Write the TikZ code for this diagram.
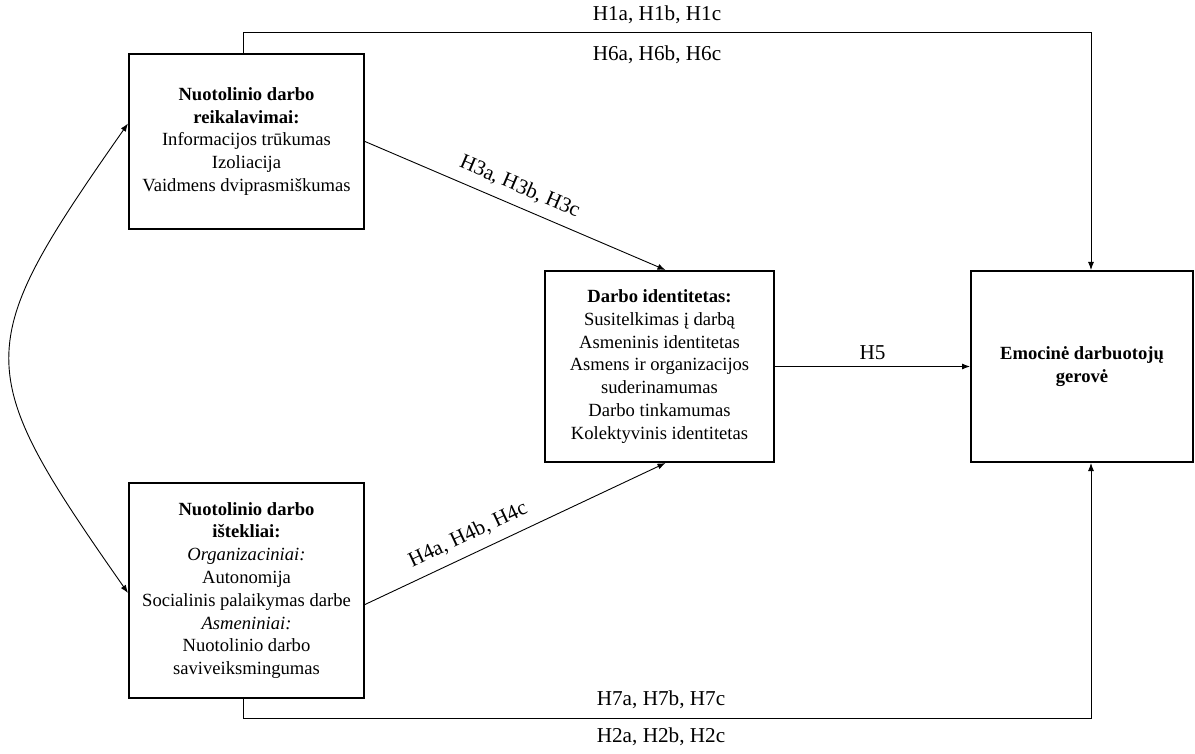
\documentclass[tikz,border=0pt]{standalone}
\usepackage{fontspec}
\setmainfont{Liberation Serif}
\usetikzlibrary{arrows.meta}
\tikzset{
	box/.style={draw,line width=1pt,align=center,font=\fontsize{9.3}{11.4}\selectfont},
	arr/.style={-{Latex[length=4pt,width=3pt]},line width=0.45pt},
	lbl/.style={font=\fontsize{10.6}{12}\selectfont}
}
\begin{document}
\begin{tikzpicture}[x=0.5pt,y=-0.5pt]
		\useasboundingbox (0,0) rectangle (1195,754);

		% Blocchi
		\node[box,minimum width=117.5pt,minimum height=87.5pt] (dem) at (246.5,141.5)
			{\textbf{Nuotolinio darbo}\\\textbf{reikalavimai:}\\Informacijos trūkumas\\Izoliacija\\Vaidmens dviprasmiškumas};
		\node[box,minimum width=117.5pt,minimum height=107.5pt] (res) at (246.5,590.5)
			{\textbf{Nuotolinio darbo}\\\textbf{ištekliai:}\\\textit{Organizaciniai:}\\Autonomija\\Socialinis palaikymas darbe\\\textit{Asmeniniai:}\\Nuotolinio darbo\\saviveiksmingumas};
		\node[box,minimum width=114.5pt,minimum height=95.5pt] (ident) at (659.5,366.5)
			{\textbf{Darbo identitetas:}\\Susitelkimas į darbą\\Asmeninis identitetas\\Asmens ir organizacijos\\suderinamumas\\Darbo tinkamumas\\Kolektyvinis identitetas};
		\node[box,minimum width=111pt,minimum height=95.5pt] (emo) at (1082,366.5)
			{\textbf{Emocinė darbuotojų}\\\textbf{gerovė}};

		% Frecce
		\draw[arr] (dem.east) -- ([xshift=3pt]ident.north)
			node[lbl,pos=0.49,sloped,above=1.5pt] {H3a, H3b, H3c};
		\draw[arr] ([yshift=-7pt]res.east) -- ([xshift=3pt]ident.south)
			node[lbl,pos=0.37,sloped,above=1.5pt] {H4a, H4b, H4c};
		\draw[arr] (ident.east) -- (emo.west)
			node[lbl,midway,above=0pt] {H5};
		\draw[arr] ([xshift=-1.75pt]dem.north) -- ++(0,-21) -| ([xshift=4.5pt]emo.north);
		\draw[arr] ([xshift=-1.75pt]res.south) -- ++(0,19) -| ([xshift=4.5pt]emo.south);
		\draw[{Latex[length=4pt,width=3pt]}-{Latex[length=4pt,width=3pt]},line width=0.45pt]
			([yshift=9pt]dem.west) to[bend right=35,looseness=1.5] ([yshift=-1.25pt]res.west);

		% Etichette
		\node[lbl] (h1) at (657,15) {H1a, H1b, H1c};
		\node[lbl] (h6) at (657,55) {H6a, H6b, H6c};
		\node[lbl] (h7) at (661,700) {H7a, H7b, H7c};
		\node[lbl] (h2) at (661,737) {H2a, H2b, H2c};
\end{tikzpicture}
\end{document}
